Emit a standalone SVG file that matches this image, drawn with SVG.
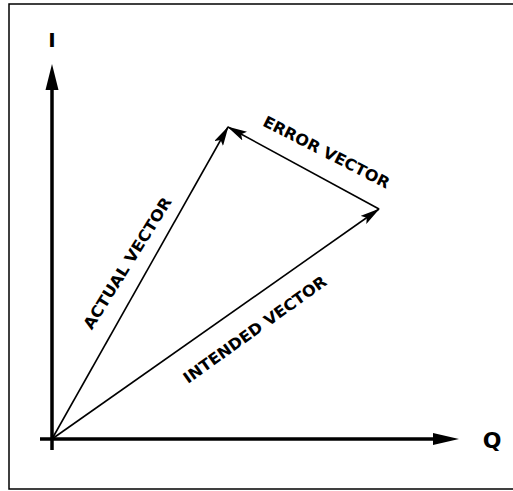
<svg xmlns="http://www.w3.org/2000/svg" width="513" height="491" viewBox="0 0 513 491">
<style>
.lbl{font-family:"DejaVu Sans","Liberation Sans",sans-serif;font-weight:bold;fill:#000}
.axis{stroke:#000;stroke-width:3.5;fill:none}
.vec{stroke:#000;stroke-width:1.6;fill:none}
</style>
<defs>
<marker id="ah" viewBox="0 0 20 10" refX="19" refY="5" markerWidth="20" markerHeight="10" markerUnits="userSpaceOnUse" orient="auto">
<path d="M0,0 L20,5 L0,10 L4,5 Z" fill="#000"/>
</marker>
</defs>
<rect x="9" y="4" width="520" height="485" fill="#fff" stroke="#000" stroke-width="1.5"/>
<g id="axes">
<line class="axis" x1="52" y1="450" x2="52" y2="86"/>
<path d="M52,64 L58.5,90 L45.5,90 Z" fill="#000"/>
<line class="axis" x1="40" y1="439" x2="436" y2="439"/>
<path d="M459,439 L433,445 L433,433 Z" fill="#000"/>
</g>
<g id="label-I"><text class="lbl" x="52" y="47" font-size="20" text-anchor="middle">I</text></g>
<g id="label-Q"><text class="lbl" x="492" y="448" font-size="22" text-anchor="middle">Q</text></g>
<g id="connectors">
<line class="vec" x1="52" y1="439" x2="228" y2="127" marker-end="url(#ah)"/>
<line class="vec" x1="52" y1="439" x2="379" y2="209" marker-end="url(#ah)"/>
<line class="vec" x1="379" y1="209" x2="228" y2="127" marker-end="url(#ah)"/>
</g>
<g id="label-actual"><text class="lbl" font-size="15.5" text-anchor="middle" textLength="152" lengthAdjust="spacingAndGlyphs" transform="translate(132,266) rotate(-58)">ACTUAL VECTOR</text></g>
<g id="label-intended"><text class="lbl" font-size="15.5" text-anchor="middle" textLength="172" lengthAdjust="spacingAndGlyphs" transform="translate(258,334) rotate(-35.5)">INTENDED VECTOR</text></g>
<g id="label-error"><text class="lbl" font-size="15.5" text-anchor="middle" textLength="140" lengthAdjust="spacingAndGlyphs" transform="translate(324,157) rotate(27)">ERROR VECTOR</text></g>
</svg>
